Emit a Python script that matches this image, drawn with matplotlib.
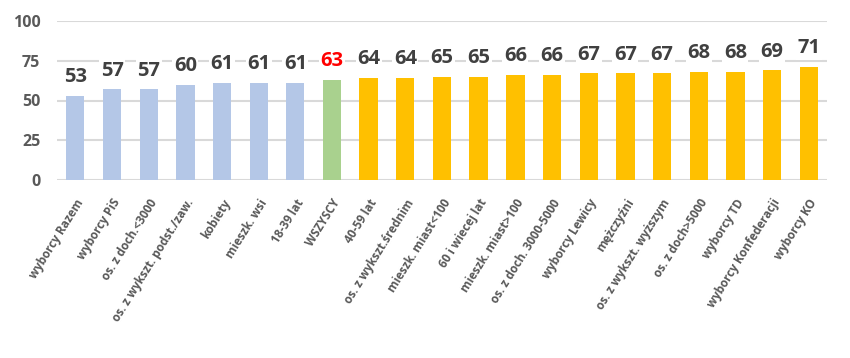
import matplotlib.pyplot as plt

labels = ["wyborcy Razem", "wyborcy PiS", "os. z doch.<3000", "os. z wykszt. podst./zaw.",
          "kobiety", "mieszk. wsi", "18-39 lat", "WSZYSCY", "40-59 lat",
          "os. z wykszt.średnim", "mieszk. miast<100", "60 i wiecej lat",
          "mieszk. miast>100", "os. z doch. 3000-5000", "wyborcy Lewicy", "mężczyźni",
          "os. z wykszt. wyższym", "os. z doch>5000", "wyborcy TD",
          "wyborcy Konfederacji", "wyborcy KO"]
values = [53, 57, 57, 60, 61, 61, 61, 63, 64, 64, 65, 65, 66, 66, 67, 67, 67, 68, 68, 69, 71]

colors = []
for v, l in zip(values, labels):
    if l == "WSZYSCY":
        colors.append("#A9D18E")
    elif v < 63:
        colors.append("#B4C7E7")
    else:
        colors.append("#FFC000")

plt.rcParams['font.family'] = ['Open Sans', 'DejaVu Sans']

fig = plt.figure(figsize=(8.5, 3.58), dpi=100)
ax = fig.add_axes([57/850, 1 - 180/358, 770/850, 159/358])

x = range(len(values))
ax.bar(x, values, width=0.5, color=colors, zorder=2)

for i, v in enumerate(values):
    c = "#FF0000" if labels[i] == "WSZYSCY" else "#404040"
    ax.text(i, v + 5.5, str(v), ha="center", va="bottom", fontsize=14.5, fontweight="bold",
            color=c, zorder=3, bbox=dict(facecolor="white", edgecolor="none", pad=1))

ax.set_xlim(-0.5, len(values) - 0.5)
ax.set_ylim(0, 100)
ax.set_yticks([0, 25, 50, 75, 100])
ax.yaxis.grid(True, color="#D9D9D9", linewidth=1.5, zorder=0)
ax.set_axisbelow(True)
for s in ax.spines.values():
    s.set_visible(False)
ax.tick_params(axis="both", length=0, colors="#595959")
ax.tick_params(axis="y", labelsize=11.5, pad=12)
for t in ax.get_yticklabels():
    t.set_fontweight("bold")

ax.set_xticks(list(x))
ax.set_xticklabels(labels, rotation=58, ha="right", rotation_mode="anchor",
                   fontsize=8.5, fontweight="bold", color="#595959")
ax.tick_params(axis="x", pad=12)

fig.savefig("out.png", dpi=100)
